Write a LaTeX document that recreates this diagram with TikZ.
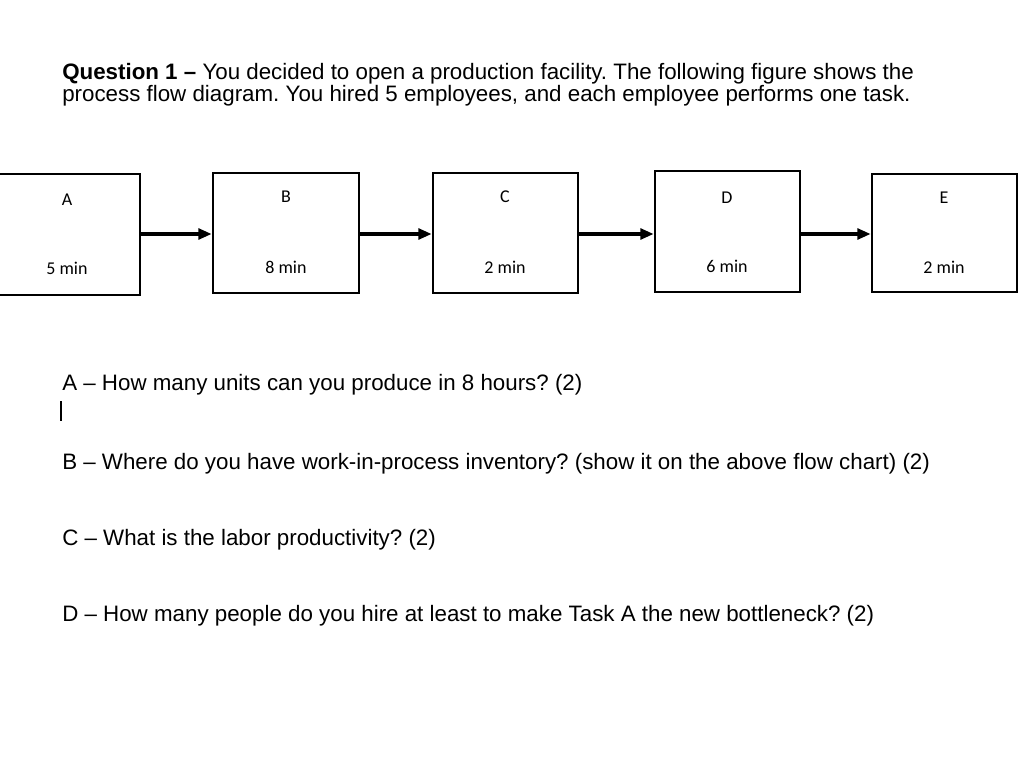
\documentclass[tikz,border=0pt]{standalone}
\usepackage{fontspec}
\setmainfont{Liberation Sans}
\newfontfamily\labfont{Carlito}
\usetikzlibrary{arrows.meta}
\frenchspacing
\begin{document}
\begin{tikzpicture}[x=0.75pt,y=-0.75pt,
  txt/.style={anchor=base west,inner sep=0pt,font=\fontsize{16.75pt}{19pt}\selectfont},
  box/.style={draw=black,line width=1.9pt,inner sep=0pt,minimum height=90pt},
  lab/.style={inner sep=0pt,font=\labfont\fontsize{13.5pt}{16pt}\selectfont},
  arr/.style={line width=2.6pt,-{Triangle[length=10pt,width=8pt]},shorten <=-0.5pt}]
\useasboundingbox[fill=white] (0,0) rectangle (1024,759);
% header
\node[txt] (h1) at (62,80) {\textbf{Question 1 –} You decided to open a production facility. The following figure shows the};
\node[txt] (h2) at (62,102) {process flow diagram. You hired 5 employees, and each employee performs one task.};
% boxes
\node[box,minimum width=108.75pt,minimum height=90.75pt] (a) at (67.5,234.5) {};
\node[box,minimum width=109.5pt] (b) at (286,233) {};
\node[box,minimum width=108.75pt] (c) at (505.5,233) {};
\node[box,minimum width=108.75pt,minimum height=90.75pt] (d) at (727.5,231.5) {};
\node[box,minimum width=108.75pt,minimum height=88.5pt] (e) at (944.5,233) {};
% labels
\node[lab] (la) at (67,200) {A};
\node[lab] (ta) at (67,268) {5 min};
\node[lab] (lb) at (286,197) {B};
\node[lab] (tb) at (286,267) {8 min};
\node[lab] (lc) at (505,197) {C};
\node[lab] (tc) at (505,267) {2 min};
\node[lab] (ld) at (727,198) {D};
\node[lab] (td) at (727,266) {6 min};
\node[lab] (le) at (944,198) {E};
\node[lab] (te) at (944,267) {2 min};
% arrows
\coordinate (y) at (0,234);
\draw[arr] (a.east |- y) -- (b.west |- y);
\draw[arr] (b.east |- y) -- (c.west |- y);
\draw[arr] (c.east |- y) -- (d.west |- y);
\draw[arr] (d.east |- y) -- (e.west |- y);
% questions
\node[txt] (qa) at (62,390) {A – How many units can you produce in 8 hours? (2)};
\coordinate (c1) at (61,401);
\coordinate (c2) at (61,421);
\draw[line width=0.8pt] (c1) -- (c2);
\node[txt] (qb) at (62,469) {B – Where do you have work-in-process inventory? (show it on the above flow chart) (2)};
\node[txt] (qc) at (62,545) {C – What is the labor productivity? (2)};
\node[txt] (qd) at (62,621) {D – How many people do you hire at least to make Task A the new bottleneck? (2)};
\end{tikzpicture}
\end{document}
